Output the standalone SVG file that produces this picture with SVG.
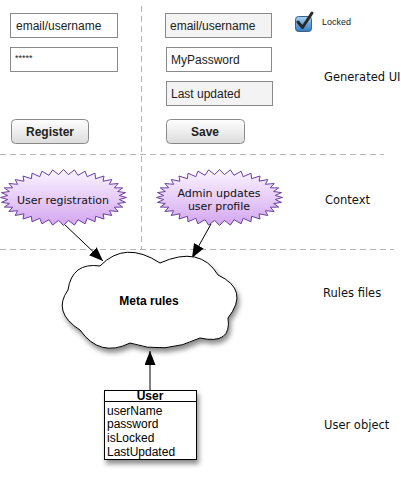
<svg xmlns="http://www.w3.org/2000/svg" width="401" height="493" viewBox="0 0 401 493">
<style>
  .sep{stroke:#b4b4b4;stroke-width:1;stroke-dasharray:6,4;fill:none}
  .field{fill:#fff;stroke:#8a8a8a;stroke-width:1}
  .field.ro{fill:#f3f3f3}
  .ftxt{font-family:"Liberation Sans",Arial,sans-serif;font-size:12px;fill:#222}
  .btn{fill:url(#btnGrad);stroke:#8a8a8a;stroke-width:1}
  .btxt{font-family:"Liberation Sans",Arial,sans-serif;font-size:12px;font-weight:bold;fill:#222;text-anchor:middle}
  .lbl{font-family:"DejaVu Sans","Open Sans",sans-serif;font-size:11.5px;fill:#111}
  .star{fill:url(#starGrad);stroke:#6b3fa0;stroke-width:1}
  .stxt{font-family:"DejaVu Sans","Open Sans",sans-serif;font-size:11px;fill:#111;text-anchor:middle}
  .conn{stroke:#000;stroke-width:1;fill:none;marker-end:url(#arrow)}
  .utxt{font-family:"Liberation Sans",Arial,sans-serif;font-size:12px;fill:#000}
</style>
<defs>
  <linearGradient id="btnGrad" x1="0" y1="0" x2="0" y2="1">
    <stop offset="0" stop-color="#ffffff"/>
    <stop offset="1" stop-color="#dcdcdc"/>
  </linearGradient>
  <linearGradient id="starGrad" x1="0" y1="0" x2="0" y2="1">
    <stop offset="0" stop-color="#fbf5ff"/>
    <stop offset="1" stop-color="#d3a6f0"/>
  </linearGradient>
  <linearGradient id="cbGrad" x1="0" y1="0" x2="0" y2="1">
    <stop offset="0" stop-color="#a9d2f3"/>
    <stop offset="1" stop-color="#2f7cc6"/>
  </linearGradient>
  <filter id="shadow" x="-20%" y="-20%" width="150%" height="160%">
    <feDropShadow dx="2" dy="4" stdDeviation="2.5" flood-color="#000" flood-opacity="0.45"/>
  </filter>
  <marker id="arrow" viewBox="0 0 14 11" refX="14" refY="5.5" markerWidth="14" markerHeight="11" markerUnits="userSpaceOnUse" orient="auto">
    <path d="M0,0 L14,5.5 L0,11 Z" fill="#000"/>
  </marker>
  <polygon id="starShape" points="63,0 55.8,2 62,4.9 54.1,6 59.2,9.6 50.8,9.7 54.6,14 45.9,13.2 48.3,18 39.6,16.3 40.5,21.5 32.1,18.8 31.5,24.3 23.7,20.8 21.6,26.3 14.5,22.2 10.9,27.6 4.9,22.9 0,28 -4.9,22.9 -10.9,27.6 -14.5,22.2 -21.6,26.3 -23.7,20.8 -31.5,24.3 -32.1,18.8 -40.5,21.5 -39.6,16.3 -48.3,18 -45.9,13.2 -54.6,14 -50.8,9.7 -59.2,9.6 -54.1,6 -62,4.9 -55.8,2 -63,0 -55.8,-2 -62,-4.9 -54.1,-6 -59.2,-9.6 -50.8,-9.7 -54.6,-14 -45.9,-13.2 -48.3,-18 -39.6,-16.3 -40.5,-21.5 -32.1,-18.8 -31.5,-24.3 -23.7,-20.8 -21.6,-26.3 -14.5,-22.2 -10.9,-27.6 -4.9,-22.9 0,-28 4.9,-22.9 10.9,-27.6 14.5,-22.2 21.6,-26.3 23.7,-20.8 31.5,-24.3 32.1,-18.8 40.5,-21.5 39.6,-16.3 48.3,-18 45.9,-13.2 54.6,-14 50.8,-9.7 59.2,-9.6 54.1,-6 62,-4.9 55.8,-2"/>
</defs>

<g id="separators">
  <line class="sep" x1="0" y1="154.5" x2="384" y2="154.5"/>
  <line class="sep" x1="0" y1="249.5" x2="394" y2="249.5"/>
  <line class="sep" x1="141.5" y1="6" x2="141.5" y2="249"/>
</g>

<g id="register-form">
  <rect class="field" x="10.5" y="13.5" width="107" height="24"/>
  <text class="ftxt" x="16" y="30">email/username</text>
  <rect class="field" x="10.5" y="47.5" width="107" height="24"/>
  <text class="ftxt" x="15" y="61" style="font-size:9px">*****</text>
  <rect class="btn" x="11.5" y="119.5" width="77" height="24" rx="4"/>
  <text class="btxt" x="50" y="136">Register</text>
</g>

<g id="profile-form">
  <rect class="field ro" x="165.5" y="13.5" width="106" height="24"/>
  <text class="ftxt" x="170" y="30">email/username</text>
  <rect class="field" x="166.5" y="47.5" width="105" height="24"/>
  <text class="ftxt" x="171" y="64">MyPassword</text>
  <rect class="field ro" x="166.5" y="81.5" width="106" height="24"/>
  <text class="ftxt" x="171" y="98">Last updated</text>
  <rect class="btn" x="166.5" y="119.5" width="78" height="24" rx="4"/>
  <text class="btxt" x="205" y="136">Save</text>
  <g id="checkbox">
    <rect x="295.5" y="16.5" width="16" height="15" rx="3" fill="url(#cbGrad)" stroke="#3d5f80" stroke-width="1"/>
    <path d="M298,22 L302.5,27.5 L312,13" fill="none" stroke="#2a2a2a" stroke-width="3" stroke-linecap="round" stroke-linejoin="round"/>
  </g>
  <text x="322" y="25" style="font-family:'Liberation Sans',Arial,sans-serif;font-size:9px;fill:#222">Locked</text>
</g>

<g id="labels">
  <text class="lbl" x="324" y="81">Generated UI</text>
  <text class="lbl" x="325" y="204">Context</text>
  <text class="lbl" x="323" y="297">Rules files</text>
  <text class="lbl" x="324" y="429">User object</text>
</g>

<g id="connectors">
  <line class="conn" x1="64" y1="224" x2="103" y2="261"/>
  <line class="conn" x1="211" y1="224" x2="192" y2="258"/>
  <line class="conn" x1="150" y1="390" x2="150" y2="351"/>
</g>

<g id="user-registration">
  <use href="#starShape" class="star" transform="translate(63.5,197.5)"/>
  <text class="stxt" x="63" y="204">User registration</text>
</g>

<g id="admin-updates">
  <use href="#starShape" class="star" transform="translate(219.5,197.5)"/>
  <text class="stxt" x="219" y="197">Admin updates</text>
  <text class="stxt" x="219" y="210">user profile</text>
</g>

<g id="meta-rules">
  <path d="M100,266 Q125,240 160,263 Q200,245 218,275 Q250,290 228,318 Q232,345 200,338 Q165,355 130,343 Q100,358 80,330 Q52,312 68,290 Q72,262 100,266 Z" fill="#fff" stroke="#000" stroke-width="1" filter="url(#shadow)"/>
  <text x="149" y="305" text-anchor="middle" style="font-family:'Liberation Sans',Arial,sans-serif;font-size:12px;font-weight:bold;fill:#000">Meta rules</text>
</g>

<g id="user-class">
  <rect x="104.5" y="390.5" width="92" height="69" fill="#fff" stroke="#000" stroke-width="1" filter="url(#shadow)"/>
  <line x1="104.5" y1="401.5" x2="196.5" y2="401.5" stroke="#000" stroke-width="1"/>
  <text x="150" y="400" text-anchor="middle" style="font-family:'Liberation Sans',Arial,sans-serif;font-size:12px;font-weight:bold;fill:#000">User</text>
  <text class="utxt" x="107" y="415">userName</text>
  <text class="utxt" x="107" y="428">password</text>
  <text class="utxt" x="107" y="442">isLocked</text>
  <text class="utxt" x="107" y="456">LastUpdated</text>
</g>
</svg>
